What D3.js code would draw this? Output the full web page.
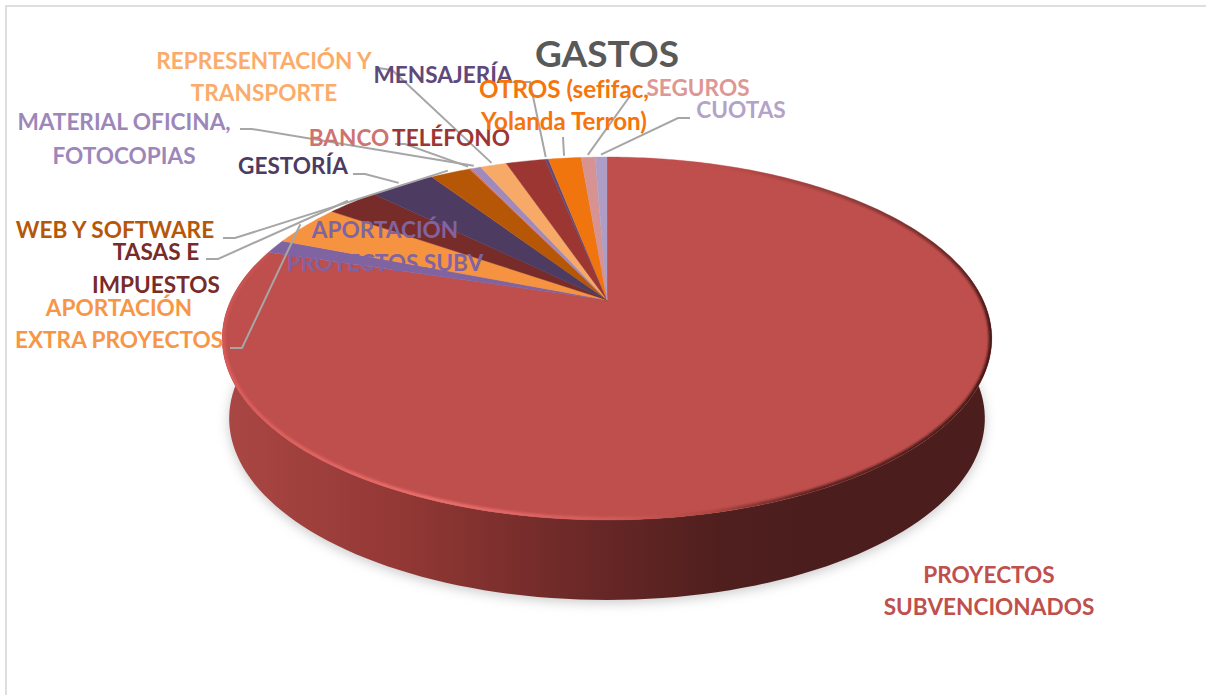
<!DOCTYPE html>
<html>
<head>
<meta charset="utf-8">
<script src="https://cdn.jsdelivr.net/npm/d3@7"></script>
<style>
  body { margin: 0; background: #fff; }
  text { font-family: Lato, "Open Sans", sans-serif; font-weight: 700; font-variant-ligatures: none; }
</style>
</head>
<body>
<div id="chart"></div>
<script>
//datos (% del total)
const categorias = ["PROYECTOS SUBVENCIONADOS", "APORTACIÓN PROYECTOS SUBV", "APORTACIÓN EXTRA PROYECTOS", "TASAS E IMPUESTOS", "GESTORÍA", "WEB Y SOFTWARE", "BANCO", "MATERIAL OFICINA, FOTOCOPIAS", "REPRESENTACIÓN Y TRANSPORTE", "TELÉFONO", "MENSAJERÍA", "OTROS (sefifac, Yolanda Terron)", "SEGUROS", "CUOTAS"]
const valores = [79.8, 1.25, 3.72, 2.69, 3.38, 2.07, 0.1, 0.5, 1.36, 2.03, 0.17, 1.69, 0.72, 0.61]

//colores
const coloresSector = ["#bf4f4c", "#8064a2", "#f59341", "#772c2a", "#4e3b62", "#b65708", "#d0706d", "#a08abc", "#f7a968", "#9c3633", "#60497a", "#f0750f", "#d69392", "#ae9ec6"]
const coloresTexto = ["#c0504d", "#8064a2", "#f79646", "#772c2a", "#4e3b62", "#b65708", "#cf7371", "#9d87ba", "#fbac6b", "#9c3633", "#60497a", "#f5750c", "#dd9795", "#b3a2c9"]

//etiquetas: lineas, centro y lineas base
const etiquetas = [
  { i: 0, lineas: ["PROYECTOS", "SUBVENCIONADOS"], x: 989, y: [583, 615] },
  { i: 1, lineas: ["APORTACIÓN", "PROYECTOS SUBV"], x: 385, y: [238, 271] },
  { i: 2, lineas: ["APORTACIÓN", "EXTRA PROYECTOS"], x: 119, y: [316, 348], guia: [[230, 348], [242, 348]] },
  { i: 3, lineas: ["TASAS E", "IMPUESTOS"], x: 156, y: [260, 293], guia: [[206, 259], [218, 259]] },
  { i: 4, lineas: ["GESTORÍA"], x: 293, y: [174], guia: [[353, 174], [365, 174]] },
  { i: 5, lineas: ["WEB Y SOFTWARE"], x: 115, y: [238], guia: [[223, 238], [235, 238]] },
  { i: 6, lineas: ["BANCO"], x: 349, y: [146], guia: [[395, 144], [405, 144]] },
  { i: 7, lineas: ["MATERIAL OFICINA,", "FOTOCOPIAS"], x: 124, y: [130, 164], guia: [[240, 129], [252, 129]] },
  { i: 8, lineas: ["REPRESENTACIÓN Y", "TRANSPORTE"], x: 264, y: [69, 101], guia: [[378, 68], [392, 70]] },
  { i: 9, lineas: ["TELÉFONO"], x: 451, y: [146] },
  { i: 10, lineas: ["MENSAJERÍA"], x: 443, y: [83], guia: [[513, 82], [530, 82]] },
  { i: 11, lineas: ["OTROS (sefifac,", "Yolanda Terron)"], x: 564, y: [98, 130], guia: [[563, 137]], talla: 24.2 },
  { i: 12, lineas: ["SEGUROS"], x: 698, y: [96], guia: [[630, 96]] },
  { i: 13, lineas: ["CUOTAS"], x: 741, y: [118], guia: [[690, 118], [678, 118]] }
]

//margenes
const width = 1206
const height = 695
const k = 0.2122 //perspectiva
const grosor = 80

const svg = d3.select("#chart").append("svg").attr("width", width).attr("height", height).style("display", "block")
const defs = svg.append("defs")

//escalas
const x = d3.scaleLinear().domain([-1, 1]).range([607 - 376, 607 + 376])
const y = d3.scaleLinear().domain([-1, 1]).range([300 - 173.3, 300 + 173.3])

//angulo desde arriba en sentido horario -> pantalla
const proyecta = (a, r = 1) => {
  const u = r * Math.sin(a)
  const v = -r * Math.cos(a)
  const w = 1 - k * v
  return [x(u / w), y(v / w)]
}
const baja = p => [607 + (p[0] - 607) * 0.982, p[1] + grosor]
const arco = (a0, a1) => {
  const n = Math.max(2, Math.ceil((a1 - a0) * 60))
  return d3.range(n + 1).map(i => proyecta(a0 + (a1 - a0) * i / n))
}
const linea = d3.line()

const sectores = d3.pie().sort(null).startAngle(0).endAngle(2 * Math.PI)(valores)

//filtros y degradados
defs.append("filter").attr("id", "sombra").attr("x", "-10%").attr("y", "-10%").attr("width", "120%").attr("height", "120%")
  .append("feGaussianBlur").attr("stdDeviation", 6)
defs.append("filter").attr("id", "suave").attr("x", "-10%").attr("y", "-10%").attr("width", "120%").attr("height", "120%")
  .append("feGaussianBlur").attr("stdDeviation", 1)

const gradiente = (id, stops) => {
  const g = defs.append("linearGradient").attr("id", id).attr("gradientUnits", "userSpaceOnUse")
    .attr("x1", 222).attr("x2", 992).attr("y1", 0).attr("y2", 0)
  stops.forEach(s => g.append("stop").attr("offset", (s[0] - 222) / 770).attr("stop-color", s[1]))
}
gradiente("lateral", [[222, "#aa4744"], [400, "#933835"], [600, "#672726"], [720, "#4f1f1e"], [800, "#4b1e1d"], [992, "#4b1e1d"]])
gradiente("bisel", [[222, "#d95c5a"], [440, "#ec6f6d"], [620, "#cf5a58"], [710, "#b04643"], [800, "#5f2523"], [992, "#3f1816"]])

//marco
svg.append("path").attr("d", linea([[6, height], [6, 6], [width, 6]])).attr("fill", "none").attr("stroke", "#dedede").attr("stroke-width", 2)

//sombra
const anillo = d3.range(241).map(i => proyecta(i / 240 * 2 * Math.PI))
svg.append("path").attr("d", linea(anillo.map(baja)) + "Z").attr("fill", "#a8a8a8").attr("opacity", 0.6)
  .attr("filter", "url(#sombra)").attr("transform", "translate(0,3)")

//lateral
const extremo = Math.asin(Math.sqrt(1 - k * k)) //donde la elipse alcanza su anchura maxima
const frente = d3.range(121).map(i => proyecta(extremo + (2 * (Math.PI - extremo)) * i / 120))
svg.append("path").attr("d", linea(frente.map(baja).concat(frente.slice().reverse())) + "Z").attr("fill", "url(#lateral)")

//sectores
svg.append("g").selectAll("path").data(sectores).enter().append("path")
  .attr("data-categoria", (d, i) => categorias[i])
  .attr("d", d => linea([[x(0), y(0)]].concat(arco(d.startAngle, d.endAngle))) + "Z")
  .attr("fill", (d, i) => coloresSector[i])
  .attr("stroke", (d, i) => coloresSector[i])
  .attr("stroke-width", 0.4)

//bisel del sector grande, se desvanece hacia arriba
const grande = sectores[0]
defs.append("clipPath").attr("id", "corte").append("path")
  .attr("d", linea([[x(0), y(0)]].concat(arco(grande.startAngle, grande.endAngle))) + "Z")
const opacidad = d3.scaleLinear().domain([grande.startAngle, 1.75, grande.endAngle - 0.7, grande.endAngle]).range([0, 1, 1, 0.15]).clamp(true)
const tramos = d3.range(80).map(i => {
  const paso = (grande.endAngle - grande.startAngle) / 80
  return [grande.startAngle + i * paso, grande.startAngle + (i + 1) * paso]
})
svg.append("g").attr("clip-path", "url(#corte)").append("g").attr("filter", "url(#suave)")
  .selectAll("path").data(tramos).enter().append("path")
  .attr("d", d => linea(arco(d[0], d[1])))
  .attr("fill", "none").attr("stroke", "url(#bisel)").attr("stroke-width", 6)
  .attr("stroke-opacity", d => opacidad((d[0] + d[1]) / 2))

//guias
const guias = etiquetas.filter(e => e.guia).map(e => {
  const s = sectores[e.i]
  return e.guia.concat([proyecta((s.startAngle + s.endAngle) / 2, 1.02)])
})
svg.append("g").selectAll("path").data(guias).enter().append("path")
  .attr("d", d => linea(d)).attr("fill", "none").attr("stroke", "#a6a6a6").attr("stroke-width", 2)

//titulo
svg.append("text").text("GASTOS").attr("x", 607).attr("y", 67).attr("text-anchor", "middle").attr("font-size", 37).attr("fill", "#595959")

//textos
const grupos = svg.append("g").selectAll("g").data(etiquetas).enter().append("g").attr("fill", d => coloresTexto[d.i])
grupos.selectAll("text").data(d => d.lineas.map((t, j) => ({ t: t, x: d.x, y: d.y[j], talla: d.talla || 22.6 }))).enter().append("text")
  .text(d => d.t).attr("x", d => d.x).attr("y", d => d.y).attr("text-anchor", "middle").attr("font-size", d => d.talla)
</script>
</body>
</html>
